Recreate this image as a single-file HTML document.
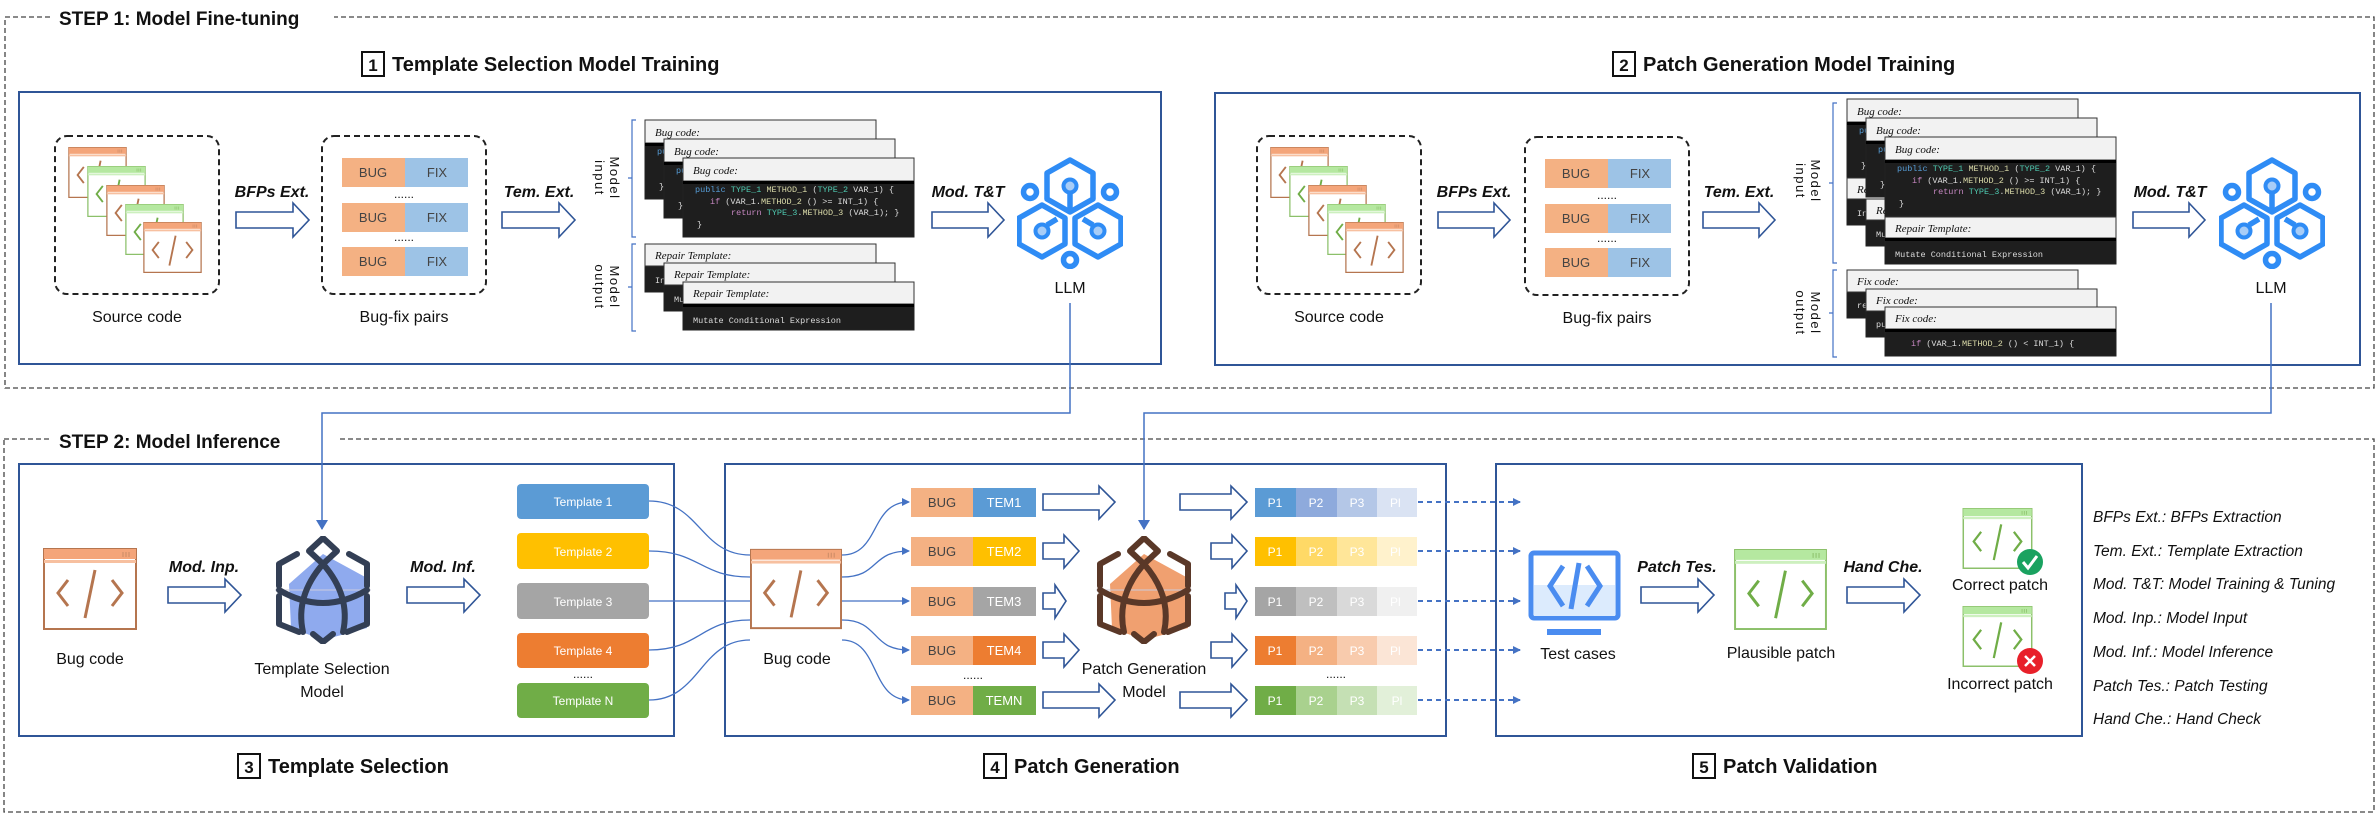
<!DOCTYPE html>
<html><head><meta charset="utf-8"><style>
html,body{margin:0;padding:0;background:#fff}
svg{display:block}
text{font-family:"Liberation Sans",sans-serif;fill:#111}
.t{font-weight:bold;font-size:20px}
.lb{font-size:16px}
.op{font-weight:bold;font-style:italic;font-size:16px}
.lg{font-style:italic;font-size:15.5px}
.hd{font-family:"Liberation Serif",serif;font-style:italic;font-size:11px}
.cd{font-family:"Liberation Mono",monospace;font-size:8.5px;fill:#ddd}
.bx{font-size:13px;fill:#444}
.w{font-size:12px;fill:#fff}
.ar{fill:#fff;stroke:#2f5597;stroke-width:1.6}
.cv{fill:none;stroke:#4472c4;stroke-width:1.3}
</style></head><body>
<svg width="2379" height="838" viewBox="0 0 2379 838" xmlns="http://www.w3.org/2000/svg">
<defs>
<marker id="ah" markerWidth="8" markerHeight="8" refX="7" refY="4" orient="auto" markerUnits="userSpaceOnUse"><path d="M0,0 L8,4 L0,8 Z" fill="#4472c4"/></marker>
<marker id="ah2" markerWidth="10" markerHeight="12" refX="9" refY="6" orient="auto" markerUnits="userSpaceOnUse"><path d="M0,0 L10,6 L0,12 Z" fill="#4472c4"/></marker>
<symbol id="winO" viewBox="0 0 94 82"><rect x="1" y="1" width="92" height="80" fill="#fff" stroke="#b5754f" stroke-width="2"/><rect x="1" y="1" width="92" height="10" fill="#f4a57a"/><rect x="1" y="12" width="92" height="3" fill="#f7c0a0"/><path d="M80,4v5M83,4v5M86,4v5" stroke="#c98a66" stroke-width="1"/><path d="M25,32 L15,45 L25,58 M69,32 L79,45 L69,58 M52,22 L42,70" fill="none" stroke="#b5754f" stroke-width="3"/></symbol>
<symbol id="winG" viewBox="0 0 94 82"><rect x="1" y="1" width="92" height="80" fill="#fff" stroke="#8cc06a" stroke-width="2"/><rect x="1" y="1" width="92" height="10" fill="#b5e8a0"/><rect x="1" y="12" width="92" height="3" fill="#cdf0bf"/><path d="M80,4v5M83,4v5M86,4v5" stroke="#8cc06a" stroke-width="1"/><path d="M25,32 L15,45 L25,58 M69,32 L79,45 L69,58 M52,22 L42,70" fill="none" stroke="#70ad47" stroke-width="3"/></symbol>
<symbol id="llm" viewBox="0 0 106 112"><g fill="none" stroke="#2f8cf5" stroke-width="5.5" stroke-linejoin="round"><path d="M53,3 L76,16 L76,42 L53,55 L30,42 L30,16 Z"/><path d="M25,48 L48,61 L48,87 L25,100 L2,87 L2,61 Z"/><path d="M81,48 L104,61 L104,87 L81,100 L58,87 L58,61 Z"/><circle cx="13" cy="35" r="6.5"/><circle cx="93" cy="35" r="6.5"/><circle cx="53" cy="103" r="6.5"/><path d="M53,36 V52 M30,68 L40,62 M76,68 L66,62"/></g><g fill="#a8cdf7" stroke="#2f8cf5" stroke-width="4"><circle cx="53" cy="29" r="6.5"/><circle cx="25" cy="74" r="6.5"/><circle cx="81" cy="74" r="6.5"/></g></symbol>
<symbol id="mdl" viewBox="0 0 96 108"><path d="M48,18 L92,42 L92,92 L48,104 L16,92 L14,48 Z" fill="var(--f)"/><line x1="-10" y1="54" x2="106" y2="54" stroke="#ccd" stroke-width="1"/><g fill="none" stroke="var(--s)" stroke-width="6" stroke-linecap="round" stroke-linejoin="round"><path d="M48,2 L62,15 L48,28 L34,15 Z"/><path d="M22,18 L4,28 L4,50 M74,18 L92,28 L92,50 M4,60 L4,88 L24,96 M92,60 L92,88 L72,96 M38,98 L48,106 L58,98"/><path d="M48,28 Q20,60 28,96 M48,28 Q76,60 68,96"/><path d="M4,54 Q48,80 92,54"/></g></symbol>
<g id="bc">
<rect width="231" height="79" fill="#1e1e1e" stroke="#222"/><rect width="231" height="23" fill="#f2f2f2" stroke="#333"/>
<rect y="23" width="231" height="3" fill="#000"/>
<text x="10" y="16" class="hd">Bug code:</text>
<text class="cd"><tspan x="12" y="34"><tspan fill="#569cd6">public</tspan> <tspan fill="#4ec9b0">TYPE_1</tspan> <tspan fill="#dcdcaa">METHOD_1</tspan> (<tspan fill="#4ec9b0">TYPE_2</tspan> VAR_1) {</tspan><tspan x="27" y="46"><tspan fill="#c586c0">if</tspan> (VAR_1.<tspan fill="#dcdcaa">METHOD_2</tspan> () &gt;= INT_1) {</tspan><tspan x="48" y="57"><tspan fill="#c586c0">return</tspan> <tspan fill="#4ec9b0">TYPE_3</tspan>.<tspan fill="#dcdcaa">METHOD_3</tspan> (VAR_1); }</tspan><tspan x="14" y="69">}</tspan></text>
</g>
</defs>

<!-- STEP boxes -->
<rect x="5" y="17" width="2369" height="371" fill="none" stroke="#444" stroke-width="1.3" stroke-dasharray="5,3"/>
<rect x="52" y="4" width="282" height="28" fill="#fff"/>
<text x="59" y="25" class="t" style="font-size:19px">STEP 1: Model Fine-tuning</text>
<rect x="4" y="439" width="2370" height="373" fill="none" stroke="#444" stroke-width="1.3" stroke-dasharray="5,3"/>
<rect x="52" y="426" width="286" height="28" fill="#fff"/>
<text x="59" y="448" class="t" style="font-size:19px">STEP 2: Model Inference</text>

<!-- Titles -->
<rect x="362" y="52" width="22" height="24" fill="#fff" stroke="#111" stroke-width="2"/><text x="373" y="71" class="t" text-anchor="middle" style="font-size:17px">1</text>
<text x="392" y="71" class="t">Template Selection Model Training</text>
<rect x="1613" y="52" width="22" height="24" fill="#fff" stroke="#111" stroke-width="2"/><text x="1624" y="71" class="t" text-anchor="middle" style="font-size:17px">2</text>
<text x="1643" y="71" class="t">Patch Generation Model Training</text>
<rect x="238" y="754" width="22" height="24" fill="#fff" stroke="#111" stroke-width="2"/><text x="249" y="773" class="t" text-anchor="middle" style="font-size:17px">3</text>
<text x="268" y="773" class="t">Template Selection</text>
<rect x="984" y="754" width="22" height="24" fill="#fff" stroke="#111" stroke-width="2"/><text x="995" y="773" class="t" text-anchor="middle" style="font-size:17px">4</text>
<text x="1014" y="773" class="t">Patch Generation</text>
<rect x="1693" y="754" width="22" height="24" fill="#fff" stroke="#111" stroke-width="2"/><text x="1704" y="773" class="t" text-anchor="middle" style="font-size:17px">5</text>
<text x="1723" y="773" class="t">Patch Validation</text>

<!-- Panels -->
<g fill="none" stroke="#2f5597" stroke-width="2">
<rect x="19" y="92" width="1142" height="272"/>
<rect x="1215" y="93" width="1145" height="272"/>
<rect x="19" y="464" width="655" height="272"/>
<rect x="725" y="464" width="721" height="272"/>
<rect x="1496" y="464" width="586" height="272"/>
</g>

<!-- ===== Panel 1 ===== -->
<g>
<rect x="55" y="136" width="164" height="158" rx="12" fill="none" stroke="#222" stroke-width="2" stroke-dasharray="6,4"/>
<use href="#winO" x="68" y="147" width="59" height="51"/>
<use href="#winG" x="87" y="166" width="59" height="51"/>
<use href="#winO" x="106" y="185" width="59" height="51"/>
<use href="#winG" x="125" y="204" width="59" height="51"/>
<use href="#winO" x="143" y="222" width="59" height="51"/>
</g>
<text x="137" y="322" class="lb" text-anchor="middle">Source code</text>
<rect x="322" y="136" width="164" height="158" rx="12" fill="none" stroke="#222" stroke-width="2" stroke-dasharray="6,4"/>
<g>
<rect x="342" y="158" width="63" height="29" fill="#f4b183"/><rect x="405" y="158" width="63" height="29" fill="#9dc3e6"/>
<rect x="342" y="203" width="63" height="29" fill="#f4b183"/><rect x="405" y="203" width="63" height="29" fill="#9dc3e6"/>
<rect x="342" y="247" width="63" height="29" fill="#f4b183"/><rect x="405" y="247" width="63" height="29" fill="#9dc3e6"/>
<text class="bx" text-anchor="middle"><tspan x="373" y="177">BUG</tspan><tspan x="437" y="177">FIX</tspan><tspan x="373" y="222">BUG</tspan><tspan x="437" y="222">FIX</tspan><tspan x="373" y="266">BUG</tspan><tspan x="437" y="266">FIX</tspan></text>
<text x="404" y="198" text-anchor="middle" style="font-size:12px">......</text>
<text x="404" y="241" text-anchor="middle" style="font-size:12px">......</text>
</g>
<text x="404" y="322" class="lb" text-anchor="middle">Bug-fix pairs</text>
<text x="272" y="197" class="op" text-anchor="middle">BFPs Ext.</text>
<path class="ar" d="M236,212 H293 V203 L309,220 L293,237 V228 H236 Z"/>
<text x="539" y="197" class="op" text-anchor="middle">Tem. Ext.</text>
<path class="ar" d="M502,212 H559 V203 L575,220 L559,237 V228 H502 Z"/>
<text x="968" y="197" class="op" text-anchor="middle">Mod. T&amp;T</text>
<path class="ar" d="M932,212 H988 V203 L1004,220 L988,237 V228 H932 Z"/>
<use href="#llm" x="1017" y="157" width="106" height="112"/>
<text x="1070" y="293" class="lb" text-anchor="middle">LLM</text>

<!-- brackets p1 -->
<path d="M636,120 H632 V237 H636 M632,178 H628" fill="none" stroke="#4472c4" stroke-width="1.2"/>
<path d="M636,244 H632 V331 H636 M632,287 H628" fill="none" stroke="#4472c4" stroke-width="1.2"/>
<text transform="translate(607,178) rotate(90)" text-anchor="middle" style="font-size:13px;letter-spacing:1.5px"><tspan x="0" y="-3">Model</tspan><tspan x="0" y="12">input</tspan></text>
<text transform="translate(607,287) rotate(90)" text-anchor="middle" style="font-size:13px;letter-spacing:1.5px"><tspan x="0" y="-3">Model</tspan><tspan x="0" y="12">output</tspan></text>

<!-- code cards p1 -->
<use href="#bc" x="645" y="120"/>
<use href="#bc" x="664" y="139"/>
<use href="#bc" x="683" y="158"/>
<g transform="translate(645,244)"><rect width="231" height="48" fill="#1e1e1e" stroke="#222"/><rect width="231" height="22" fill="#f2f2f2" stroke="#333"/><text x="10" y="15" class="hd">Repair Template:</text><text x="10" y="39" class="cd">Insert Null Pointer Checker</text></g>
<g transform="translate(664,263)"><rect width="231" height="48" fill="#1e1e1e" stroke="#222"/><rect width="231" height="22" fill="#f2f2f2" stroke="#333"/><text x="10" y="15" class="hd">Repair Template:</text><text x="10" y="39" class="cd">Mutate Data Type</text></g>
<g transform="translate(683,282)"><rect width="231" height="48" fill="#1e1e1e" stroke="#222"/><rect width="231" height="22" fill="#f2f2f2" stroke="#333"/><rect y="22" width="231" height="3" fill="#000"/><text x="10" y="15" class="hd">Repair Template:</text><text x="10" y="41" class="cd">Mutate Conditional Expression</text></g>

<!-- ===== Panel 2 ===== -->
<g transform="translate(1202,0)">
<rect x="55" y="136" width="164" height="158" rx="12" fill="none" stroke="#222" stroke-width="2" stroke-dasharray="6,4"/>
<use href="#winO" x="68" y="147" width="59" height="51"/>
<use href="#winG" x="87" y="166" width="59" height="51"/>
<use href="#winO" x="106" y="185" width="59" height="51"/>
<use href="#winG" x="125" y="204" width="59" height="51"/>
<use href="#winO" x="143" y="222" width="59" height="51"/>
<text x="137" y="322" class="lb" text-anchor="middle">Source code</text>
</g>
<g transform="translate(1203,1)">
<rect x="322" y="136" width="164" height="158" rx="12" fill="none" stroke="#222" stroke-width="2" stroke-dasharray="6,4"/>
<rect x="342" y="158" width="63" height="29" fill="#f4b183"/><rect x="405" y="158" width="63" height="29" fill="#9dc3e6"/>
<rect x="342" y="203" width="63" height="29" fill="#f4b183"/><rect x="405" y="203" width="63" height="29" fill="#9dc3e6"/>
<rect x="342" y="247" width="63" height="29" fill="#f4b183"/><rect x="405" y="247" width="63" height="29" fill="#9dc3e6"/>
<text class="bx" text-anchor="middle"><tspan x="373" y="177">BUG</tspan><tspan x="437" y="177">FIX</tspan><tspan x="373" y="222">BUG</tspan><tspan x="437" y="222">FIX</tspan><tspan x="373" y="266">BUG</tspan><tspan x="437" y="266">FIX</tspan></text>
<text x="404" y="198" text-anchor="middle" style="font-size:12px">......</text>
<text x="404" y="241" text-anchor="middle" style="font-size:12px">......</text>
<text x="404" y="322" class="lb" text-anchor="middle">Bug-fix pairs</text>
</g>
<text x="1474" y="197" class="op" text-anchor="middle">BFPs Ext.</text>
<path class="ar" d="M1438,212 H1494 V203 L1510,220 L1494,237 V228 H1438 Z"/>
<text x="1739" y="197" class="op" text-anchor="middle">Tem. Ext.</text>
<path class="ar" d="M1703,212 H1759 V203 L1775,220 L1759,237 V228 H1703 Z"/>
<text x="2170" y="197" class="op" text-anchor="middle">Mod. T&amp;T</text>
<path class="ar" d="M2133,212 H2189 V203 L2205,220 L2189,237 V228 H2133 Z"/>
<use href="#llm" x="2219" y="157" width="106" height="112"/>
<text x="2271" y="293" class="lb" text-anchor="middle">LLM</text>

<path d="M1837,103 H1833 V263 H1837 M1833,183 H1829" fill="none" stroke="#4472c4" stroke-width="1.2"/>
<path d="M1837,270 H1833 V357 H1837 M1833,313 H1829" fill="none" stroke="#4472c4" stroke-width="1.2"/>
<text transform="translate(1808,181) rotate(90)" text-anchor="middle" style="font-size:13px;letter-spacing:1.5px"><tspan x="0" y="-3">Model</tspan><tspan x="0" y="12">input</tspan></text>
<text transform="translate(1808,313) rotate(90)" text-anchor="middle" style="font-size:13px;letter-spacing:1.5px"><tspan x="0" y="-3">Model</tspan><tspan x="0" y="12">output</tspan></text>

<use href="#bc" x="1847" y="99"/>
<g transform="translate(1847,178)"><rect width="231" height="47" fill="#1e1e1e" stroke="#222"/><rect width="231" height="21" fill="#f2f2f2" stroke="#333"/><text x="10" y="15" class="hd">Repair Template:</text><text x="10" y="38" class="cd">Insert Null Pointer Checker</text></g>
<use href="#bc" x="1866" y="118"/>
<g transform="translate(1866,199)"><rect width="231" height="47" fill="#1e1e1e" stroke="#222"/><rect width="231" height="21" fill="#f2f2f2" stroke="#333"/><text x="10" y="15" class="hd">Repair Template:</text><text x="10" y="38" class="cd">Mutate Data Type</text></g>
<use href="#bc" x="1885" y="137"/>
<g transform="translate(1885,217)"><rect width="231" height="47" fill="#1e1e1e" stroke="#222"/><rect width="231" height="21" fill="#f2f2f2" stroke="#333"/><rect y="21" width="231" height="3" fill="#000"/><text x="10" y="15" class="hd">Repair Template:</text><text x="10" y="40" class="cd">Mutate Conditional Expression</text></g>

<g>
<g transform="translate(1847,270)"><rect width="231" height="48" fill="#1e1e1e" stroke="#222"/><rect width="231" height="22" fill="#f2f2f2" stroke="#333"/><text x="10" y="15" class="hd">Fix code:</text><text x="10" y="38" class="cd" fill="#569cd6">re</text></g>
<g transform="translate(1866,289)"><rect width="231" height="48" fill="#1e1e1e" stroke="#222"/><rect width="231" height="22" fill="#f2f2f2" stroke="#333"/><text x="10" y="15" class="hd">Fix code:</text><text x="10" y="38" class="cd">pu</text></g>
<g transform="translate(1885,307)"><rect width="231" height="49" fill="#1e1e1e" stroke="#222"/><rect width="231" height="22" fill="#f2f2f2" stroke="#333"/><rect y="22" width="231" height="3" fill="#000"/><text x="10" y="15" class="hd">Fix code:</text><text x="26" y="39" class="cd"><tspan fill="#c586c0">if</tspan> (VAR_1.<tspan fill="#dcdcaa">METHOD_2</tspan> () &lt; INT_1) {</text></g>
</g>

<!-- connectors from LLMs -->
<path d="M1070,303 V413 H322 V529" fill="none" stroke="#4472c4" stroke-width="1.5" marker-end="url(#ah2)"/>
<path d="M2271,303 V413 H1144 V529" fill="none" stroke="#4472c4" stroke-width="1.5" marker-end="url(#ah2)"/>

<!-- ===== Panel 3 ===== -->
<use href="#winO" x="43" y="548" width="94" height="82"/>
<text x="90" y="664" class="lb" text-anchor="middle">Bug code</text>
<text x="204" y="572" class="op" text-anchor="middle">Mod. Inp.</text>
<path class="ar" d="M168,587 H225 V579 L241,595 L225,612 V603 H168 Z"/>
<use href="#mdl" x="275" y="536" width="96" height="108" style="--f:#8faaee;--s:#333f55"/>
<text x="322" y="674" class="lb" text-anchor="middle">Template Selection</text>
<text x="322" y="697" class="lb" text-anchor="middle">Model</text>
<text x="443" y="572" class="op" text-anchor="middle">Mod. Inf.</text>
<path class="ar" d="M407,587 H464 V579 L480,595 L464,612 V603 H407 Z"/>
<g>
<rect x="517" y="484" width="132" height="35" rx="4" fill="#5b9bd5"/>
<rect x="517" y="533" width="132" height="36" rx="4" fill="#ffc000"/>
<rect x="517" y="583" width="132" height="36" rx="4" fill="#a5a5a5"/>
<rect x="517" y="633" width="132" height="35" rx="4" fill="#ed7d31"/>
<rect x="517" y="683" width="132" height="35" rx="4" fill="#70ad47"/>
<text class="w" text-anchor="middle"><tspan x="583" y="506">Template 1</tspan><tspan x="583" y="556">Template 2</tspan><tspan x="583" y="606">Template 3</tspan><tspan x="583" y="655">Template 4</tspan><tspan x="583" y="705">Template N</tspan></text>
<text x="583" y="678" text-anchor="middle" style="font-size:12px">......</text>
</g>

<!-- template curves -->
<path class="cv" d="M649,501 C700,501 700,555 750,555"/>
<path class="cv" d="M649,551 C700,551 700,577 750,577"/>
<path class="cv" d="M649,601 H750"/>
<path class="cv" d="M649,650 C700,650 700,620 750,620"/>
<path class="cv" d="M649,700 C700,700 700,640 750,640"/>

<!-- ===== Panel 4 ===== -->
<use href="#winO" x="750" y="548" width="92" height="82"/>
<text x="797" y="664" class="lb" text-anchor="middle">Bug code</text>
<path class="cv" d="M842,555 C880,555 870,502 909,502" marker-end="url(#ah)"/>
<path class="cv" d="M842,577 C880,577 870,551 909,551" marker-end="url(#ah)"/>
<path class="cv" d="M842,601 H909" marker-end="url(#ah)"/>
<path class="cv" d="M842,620 C880,620 870,650 909,650" marker-end="url(#ah)"/>
<path class="cv" d="M842,640 C880,640 870,700 909,700" marker-end="url(#ah)"/>
<g>
<rect x="911" y="488" width="62" height="29" fill="#f4b183"/><rect x="973" y="488" width="63" height="29" fill="#5b9bd5"/>
<rect x="911" y="537" width="62" height="29" fill="#f4b183"/><rect x="973" y="537" width="63" height="29" fill="#ffc000"/>
<rect x="911" y="587" width="62" height="29" fill="#f4b183"/><rect x="973" y="587" width="63" height="29" fill="#a5a5a5"/>
<rect x="911" y="636" width="62" height="29" fill="#f4b183"/><rect x="973" y="636" width="63" height="29" fill="#ed7d31"/>
<rect x="911" y="686" width="62" height="29" fill="#f4b183"/><rect x="973" y="686" width="63" height="29" fill="#70ad47"/>
<text class="bx" text-anchor="middle"><tspan x="942" y="507">BUG</tspan><tspan x="942" y="556">BUG</tspan><tspan x="942" y="606">BUG</tspan><tspan x="942" y="655">BUG</tspan><tspan x="942" y="705">BUG</tspan></text>
<text class="w" text-anchor="middle" style="font-size:13px"><tspan x="1004" y="507">TEM1</tspan><tspan x="1004" y="556">TEM2</tspan><tspan x="1004" y="606">TEM3</tspan><tspan x="1004" y="655">TEM4</tspan><tspan x="1004" y="705">TEMN</tspan></text>
<text x="973" y="679" text-anchor="middle" style="font-size:12px">......</text>
</g>
<!-- arrows into PG model -->
<path class="ar" d="M1043,494 H1099 V486 L1115,502 L1099,519 V510 H1043 Z"/>
<path class="ar" d="M1043,543 H1064 V535 L1079,551 L1064,568 V559 H1043 Z"/>
<path class="ar" d="M1043,593 H1055 V585 L1066,601 L1055,618 V609 H1043 Z"/>
<path class="ar" d="M1043,642 H1064 V634 L1079,650 L1064,667 V658 H1043 Z"/>
<path class="ar" d="M1043,692 H1099 V684 L1115,700 L1099,717 V708 H1043 Z"/>
<use href="#mdl" x="1096" y="536" width="96" height="108" style="--f:#f0a070;--s:#5a3828"/>
<text x="1144" y="674" class="lb" text-anchor="middle">Patch Generation</text>
<text x="1144" y="697" class="lb" text-anchor="middle">Model</text>
<!-- arrows out -->
<path class="ar" d="M1180,494 H1231 V486 L1247,502 L1231,519 V510 H1180 Z"/>
<path class="ar" d="M1211,543 H1232 V535 L1247,551 L1232,568 V559 H1211 Z"/>
<path class="ar" d="M1225,593 H1236 V585 L1247,601 L1236,618 V609 H1225 Z"/>
<path class="ar" d="M1211,642 H1232 V634 L1247,650 L1232,667 V658 H1211 Z"/>
<path class="ar" d="M1180,692 H1231 V684 L1247,700 L1231,717 V708 H1180 Z"/>
<!-- P cells -->
<g>
<rect x="1255" y="488" width="41" height="29" fill="#5b9bd5"/><rect x="1296" y="488" width="41" height="29" fill="#8eaadc"/><rect x="1337" y="488" width="40" height="29" fill="#b4c7e7"/><rect x="1377" y="488" width="40" height="29" fill="#dae3f3"/>
<rect x="1255" y="537" width="41" height="29" fill="#ffc000"/><rect x="1296" y="537" width="41" height="29" fill="#ffd966"/><rect x="1337" y="537" width="40" height="29" fill="#ffe699"/><rect x="1377" y="537" width="40" height="29" fill="#fff2cc"/>
<rect x="1255" y="587" width="41" height="29" fill="#a5a5a5"/><rect x="1296" y="587" width="41" height="29" fill="#bfbfbf"/><rect x="1337" y="587" width="40" height="29" fill="#d9d9d9"/><rect x="1377" y="587" width="40" height="29" fill="#f0f0f0"/>
<rect x="1255" y="636" width="41" height="29" fill="#ed7d31"/><rect x="1296" y="636" width="41" height="29" fill="#f4b183"/><rect x="1337" y="636" width="40" height="29" fill="#f8cbad"/><rect x="1377" y="636" width="40" height="29" fill="#fbe5d6"/>
<rect x="1255" y="686" width="41" height="29" fill="#70ad47"/><rect x="1296" y="686" width="41" height="29" fill="#a9d18e"/><rect x="1337" y="686" width="40" height="29" fill="#c5e0b4"/><rect x="1377" y="686" width="40" height="29" fill="#e2f0d9"/>
<text class="w" text-anchor="middle">
<tspan x="1275" y="507">P1</tspan><tspan x="1316" y="507">P2</tspan><tspan x="1357" y="507">P3</tspan><tspan x="1397" y="507">Pl</tspan>
<tspan x="1275" y="556">P1</tspan><tspan x="1316" y="556">P2</tspan><tspan x="1357" y="556">P3</tspan><tspan x="1397" y="556">Pl</tspan>
<tspan x="1275" y="606">P1</tspan><tspan x="1316" y="606">P2</tspan><tspan x="1357" y="606">P3</tspan><tspan x="1397" y="606">Pl</tspan>
<tspan x="1275" y="655">P1</tspan><tspan x="1316" y="655">P2</tspan><tspan x="1357" y="655">P3</tspan><tspan x="1397" y="655">Pl</tspan>
<tspan x="1275" y="705">P1</tspan><tspan x="1316" y="705">P2</tspan><tspan x="1357" y="705">P3</tspan><tspan x="1397" y="705">Pl</tspan>
</text>
<text x="1336" y="678" text-anchor="middle" style="font-size:12px">......</text>
</g>
<!-- dashed arrows -->
<g fill="none" stroke="#4472c4" stroke-width="2" stroke-dasharray="5,4">
<path d="M1418,502 H1520" marker-end="url(#ah)"/>
<path d="M1418,551 H1520" marker-end="url(#ah)"/>
<path d="M1418,601 H1520" marker-end="url(#ah)"/>
<path d="M1418,650 H1520" marker-end="url(#ah)"/>
<path d="M1418,700 H1520" marker-end="url(#ah)"/>
</g>

<!-- ===== Panel 5 ===== -->
<g>
<rect x="1531" y="553" width="87" height="65" rx="3" fill="#fff" stroke="#4a8cf0" stroke-width="5"/>
<rect x="1534" y="585" width="81" height="31" fill="#dcebfd"/>
<path d="M1563,566 L1550,586 L1563,606 M1587,566 L1600,586 L1587,606" fill="none" stroke="#4a8cf0" stroke-width="5"/>
<path d="M1579,563 L1571,609" stroke="#4a8cf0" stroke-width="5"/>
<rect x="1547" y="629" width="54" height="6" fill="#4a8cf0"/>
</g>
<text x="1578" y="659" class="lb" text-anchor="middle">Test cases</text>
<text x="1677" y="572" class="op" text-anchor="middle">Patch Tes.</text>
<path class="ar" d="M1641,587 H1698 V579 L1714,595 L1698,612 V603 H1641 Z"/>
<use href="#winG" x="1734" y="549" width="93" height="81"/>
<text x="1781" y="658" class="lb" text-anchor="middle">Plausible patch</text>
<text x="1883" y="572" class="op" text-anchor="middle">Hand Che.</text>
<path class="ar" d="M1847,587 H1904 V579 L1920,595 L1904,612 V603 H1847 Z"/>
<use href="#winG" x="1962" y="508" width="71" height="61"/>
<circle cx="2030" cy="562" r="13" fill="#1aa260"/>
<path d="M2023,562 L2028,568 L2037,556" fill="none" stroke="#fff" stroke-width="3"/>
<text x="2000" y="590" class="lb" text-anchor="middle">Correct  patch</text>
<use href="#winG" x="1962" y="606" width="71" height="61"/>
<circle cx="2030" cy="661" r="13" fill="#e8202a"/>
<path d="M2025,656 L2035,666 M2035,656 L2025,666" stroke="#fff" stroke-width="2.5"/>
<text x="2000" y="689" class="lb" text-anchor="middle">Incorrect  patch</text>

<!-- legend -->
<text class="lg">
<tspan x="2093" y="522">BFPs Ext.: BFPs Extraction</tspan>
<tspan x="2093" y="556">Tem. Ext.: Template Extraction</tspan>
<tspan x="2093" y="589">Mod. T&amp;T: Model Training &amp; Tuning</tspan>
<tspan x="2093" y="623">Mod. Inp.: Model Input</tspan>
<tspan x="2093" y="657">Mod. Inf.: Model Inference</tspan>
<tspan x="2093" y="691">Patch Tes.: Patch Testing</tspan>
<tspan x="2093" y="724">Hand Che.: Hand Check</tspan>
</text>
</svg>
</body></html>
